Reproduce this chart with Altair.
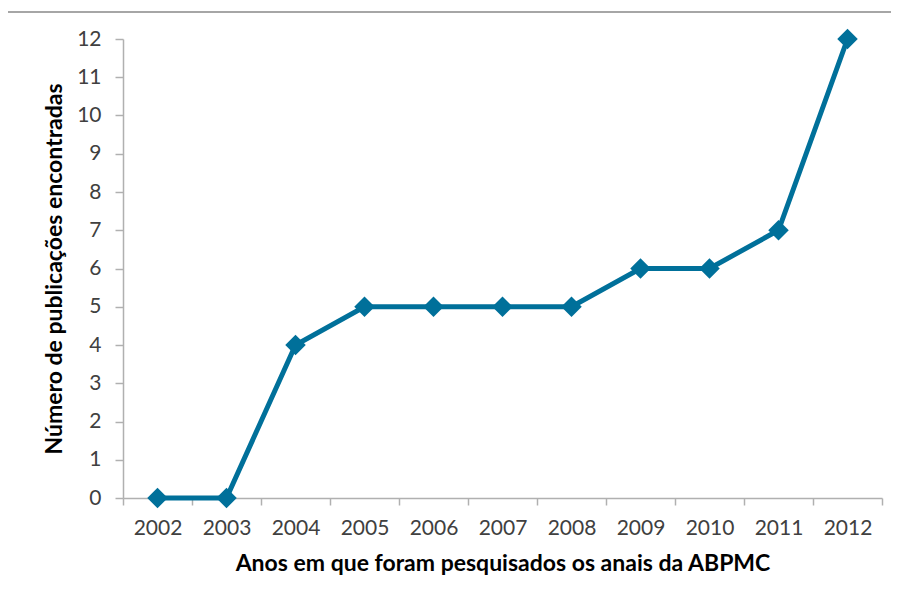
import altair as alt
import pandas as pd

years = ["2002", "2003", "2004", "2005", "2006", "2007", "2008", "2009", "2010", "2011", "2012"]
counts = [0, 0, 4, 5, 5, 5, 5, 6, 6, 7, 12]

df = pd.DataFrame({"ano": years, "n": counts})

COLOR = "#00709A"
AXIS_GRAY = "#B0B0B0"
FONT = "Lato"

x_enc = alt.X(
    "ano:O",
    sort=years,
    bandPosition=0.5,
    scale=alt.Scale(type="band", paddingInner=0, paddingOuter=0),
    axis=alt.Axis(
        title="Anos  em que foram pesquisados os anais da ABPMC",
        labelAngle=0,
        tickBand="extent",
        tickSize=7,
        labelPadding=12,
        titlePadding=14,
    ),
)
y_enc = alt.Y(
    "n:Q",
    scale=alt.Scale(domain=[0, 12], nice=False, zero=True),
    axis=alt.Axis(
        title="Número de publicações encontradas",
        values=list(range(0, 13)),
        tickSize=8,
        labelPadding=14,
        titlePadding=10,
        grid=False,
        format="d",
    ),
)

base = alt.Chart(df)
line = base.mark_line(color=COLOR, strokeWidth=5).encode(x=x_enc, y=y_enc)
points = base.mark_point(shape="diamond", filled=True, color=COLOR, size=420, opacity=1).encode(x=x_enc, y=y_enc)

frame_top = alt.Chart(df).mark_rule(color="#A6A6A6", strokeWidth=2).encode(
    x=alt.value(-116), x2=alt.value(860), y=alt.value(-27)
)
frame_left = alt.Chart(df).mark_rule(color="#A6A6A6", strokeWidth=2).encode(
    x=alt.value(-116), y=alt.value(-27), y2=alt.value(600)
)

chart = (
    alt.layer(line, points, frame_top, frame_left)
    .properties(
        width=759,
        height=459,
        background="white",
        autosize=alt.AutoSizeParams(type="none"),
        padding={"left": 115, "top": 31, "right": 9, "bottom": 97},
    )
    .configure_view(stroke=None)
    .configure_axis(
        domainColor=AXIS_GRAY,
        tickColor=AXIS_GRAY,
        domainWidth=1.5,
        tickWidth=1.5,
        labelFont=FONT,
        labelFontSize=21,
        labelColor="#404040",
        titleFont=FONT,
        titleFontSize=23,
        titleFontWeight="bold",
        titleColor="#000000",
    )
)

chart.save("out.html", embed_options={"renderer": "svg", "actions": False})
